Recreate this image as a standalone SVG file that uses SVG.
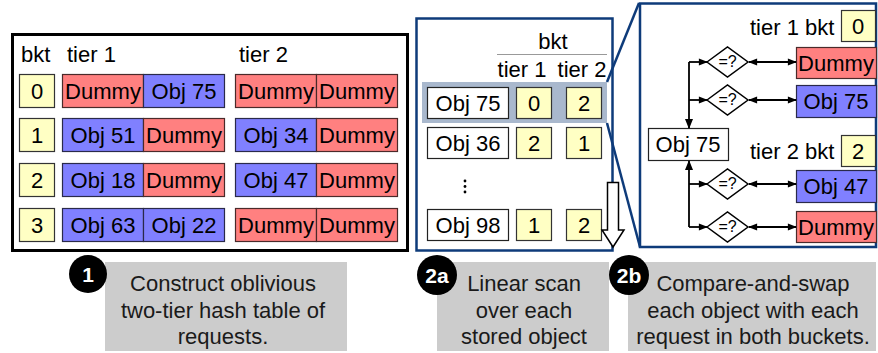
<svg xmlns="http://www.w3.org/2000/svg" width="878" height="353" viewBox="0 0 878 353">
<defs>
<marker id="ah" viewBox="0 0 10 10" refX="9" refY="5" markerWidth="10" markerHeight="9" orient="auto-start-reverse" markerUnits="userSpaceOnUse"><path d="M0,1 L10,5 L0,9 z" fill="#000"/></marker>
<marker id="ahb" viewBox="0 0 10 10" refX="9" refY="5" markerWidth="12" markerHeight="10" orient="auto-start-reverse" markerUnits="userSpaceOnUse"><path d="M0,1 L10,5 L0,9 z" fill="#000"/></marker>
</defs>
<style>
text{font-family:"Liberation Sans",Arial,sans-serif;fill:#000}
.t{font-size:22px}
.c{text-anchor:middle}
.r{fill:#FF8080;stroke:#4a2a2a;stroke-width:1.2}
.b{fill:#8080FF;stroke:#2a2a4a;stroke-width:1.2}
.y{fill:#FFFFC4;stroke:#333;stroke-width:1.2}
.w{fill:#fff;stroke:#222;stroke-width:1.2}
.nv{fill:none;stroke:#0E3B7A;stroke-width:2.5}
.g{fill:#CCCCCC}
.cap{font-size:22px;fill:#1a1a1a;text-anchor:middle}
.bd{font-size:21px;font-weight:bold;fill:#fff;text-anchor:middle}
.ln{stroke:#000;stroke-width:1.8;fill:none}
.dm{fill:#fff;stroke:#000;stroke-width:1.5}
.q{font-size:16px;text-anchor:middle}
</style>

<g id="panel1">
<rect x="12.5" y="34.5" width="395" height="216" fill="#fff" stroke="#000" stroke-width="3"/>
<text class="t" x="21" y="62">bkt</text>
<text class="t" x="67" y="62">tier 1</text>
<text class="t" x="239" y="62">tier 2</text>
</g>

<g id="row0">
<rect class="y" x="19.5" y="74.5" width="35" height="33"/><text class="t c" x="37" y="99">0</text>
<rect class="r" x="62.5" y="74.5" width="81" height="33"/><text class="t c" x="103" y="99">Dummy</text>
<rect class="b" x="143.5" y="74.5" width="81" height="33"/><text class="t c" x="184" y="99">Obj 75</text>
<rect class="r" x="235.5" y="74.5" width="81" height="33"/><text class="t c" x="276" y="99">Dummy</text>
<rect class="r" x="316.5" y="74.5" width="81" height="33"/><text class="t c" x="357" y="99">Dummy</text>
</g>
<g id="row1">
<rect class="y" x="19.5" y="118.5" width="35" height="33"/><text class="t c" x="37" y="143">1</text>
<rect class="b" x="62.5" y="118.5" width="81" height="33"/><text class="t c" x="103" y="143">Obj 51</text>
<rect class="r" x="143.5" y="118.5" width="81" height="33"/><text class="t c" x="184" y="143">Dummy</text>
<rect class="b" x="235.5" y="118.5" width="81" height="33"/><text class="t c" x="276" y="143">Obj 34</text>
<rect class="r" x="316.5" y="118.5" width="81" height="33"/><text class="t c" x="357" y="143">Dummy</text>
</g>
<g id="row2">
<rect class="y" x="19.5" y="163.5" width="35" height="33"/><text class="t c" x="37" y="188">2</text>
<rect class="b" x="62.5" y="163.5" width="81" height="33"/><text class="t c" x="103" y="188">Obj 18</text>
<rect class="r" x="143.5" y="163.5" width="81" height="33"/><text class="t c" x="184" y="188">Dummy</text>
<rect class="b" x="235.5" y="163.5" width="81" height="33"/><text class="t c" x="276" y="188">Obj 47</text>
<rect class="r" x="316.5" y="163.5" width="81" height="33"/><text class="t c" x="357" y="188">Dummy</text>
</g>
<g id="row3">
<rect class="y" x="19.5" y="208.5" width="35" height="33"/><text class="t c" x="37" y="233">3</text>
<rect class="b" x="62.5" y="208.5" width="81" height="33"/><text class="t c" x="103" y="233">Obj 63</text>
<rect class="b" x="143.5" y="208.5" width="81" height="33"/><text class="t c" x="184" y="233">Obj 22</text>
<rect class="r" x="235.5" y="208.5" width="81" height="33"/><text class="t c" x="276" y="233">Dummy</text>
<rect class="r" x="316.5" y="208.5" width="81" height="33"/><text class="t c" x="357" y="233">Dummy</text>
</g>

<g id="panel2a">
<rect class="nv" x="416.5" y="18.5" width="196" height="232" fill="#fff"/>
<text class="t c" x="553" y="49">bkt</text>
<line x1="497" y1="54.5" x2="607" y2="54.5" stroke="#999" stroke-width="1"/>
<text class="t c" x="522" y="77">tier 1</text>
<text class="t c" x="582" y="77">tier 2</text>
<rect x="422" y="82" width="185" height="41" fill="#A9B8CD"/>
<g id="s75">
<rect class="w" x="427.5" y="87.5" width="81" height="31"/><text class="t c" x="468" y="111">Obj 75</text>
<rect class="y" x="516.5" y="87.5" width="35" height="31"/><text class="t c" x="534" y="111">0</text>
<rect class="y" x="566.5" y="87.5" width="35" height="31"/><text class="t c" x="584" y="111">2</text>
</g>
<g id="s36">
<rect class="w" x="427.5" y="127.5" width="81" height="31"/><text class="t c" x="468" y="151">Obj 36</text>
<rect class="y" x="516.5" y="127.5" width="35" height="31"/><text class="t c" x="534" y="151">2</text>
<rect class="y" x="566.5" y="127.5" width="35" height="31"/><text class="t c" x="584" y="151">1</text>
</g>
<g id="dots" fill="#000">
<circle cx="465" cy="181" r="1.4"/><circle cx="465" cy="186.5" r="1.4"/><circle cx="465" cy="192" r="1.4"/>
</g>
<g id="s98">
<rect class="w" x="427.5" y="209.5" width="81" height="31"/><text class="t c" x="468" y="233">Obj 98</text>
<rect class="y" x="516.5" y="209.5" width="35" height="31"/><text class="t c" x="534" y="233">1</text>
<rect class="y" x="566.5" y="209.5" width="35" height="31"/><text class="t c" x="584" y="233">2</text>
</g>
<polygon points="607.5,182.5 618.5,182.5 618.5,230 624,230 613,247 602,230 607.5,230" fill="#fff" stroke="#000" stroke-width="1.5"/>
</g>

<g id="zoomlines">
<line x1="607" y1="82" x2="639" y2="3" stroke="#0E3B7A" stroke-width="2.5"/>
<line x1="607" y1="123" x2="640" y2="247" stroke="#0E3B7A" stroke-width="2.5"/>
</g>

<g id="panel2b">
<rect class="nv" x="640" y="3.5" width="236" height="243.5" fill="#fff"/>
<text class="t" x="750" y="35">tier 1 bkt</text>
<rect class="y" x="841.5" y="10.5" width="34" height="31"/><text class="t c" x="858" y="34">0</text>
<text class="t" x="750" y="159">tier 2 bkt</text>
<rect class="y" x="841.5" y="135.5" width="34" height="31"/><text class="t c" x="858" y="159">2</text>
</g>
<g id="b1"><rect class="r" x="796.5" y="47.5" width="80" height="31"/><text class="t c" x="836" y="71">Dummy</text></g>
<g id="b2"><rect class="b" x="796.5" y="85.5" width="80" height="32"/><text class="t c" x="836" y="109">Obj 75</text></g>
<g id="b3"><rect class="b" x="796.5" y="170.5" width="80" height="32"/><text class="t c" x="836" y="194">Obj 47</text></g>
<g id="b4"><rect class="r" x="796.5" y="211.5" width="80" height="31"/><text class="t c" x="836" y="235">Dummy</text></g>
<g id="obj75"><rect class="w" x="648.5" y="128.5" width="80" height="32"/><text class="t c" x="688" y="152">Obj 75</text></g>
<g id="d1"><polygon class="dm" points="707,62 727.5,47 748,62 727.5,77"/><text class="q" x="727.5" y="67">=?</text></g>
<g id="d2"><polygon class="dm" points="707,100 727.5,85 748,100 727.5,115"/><text class="q" x="727.5" y="105">=?</text></g>
<g id="d3"><polygon class="dm" points="707,184 727.5,169 748,184 727.5,199"/><text class="q" x="727.5" y="189">=?</text></g>
<g id="d4"><polygon class="dm" points="707,227 727.5,212 748,227 727.5,242"/><text class="q" x="727.5" y="232">=?</text></g>

<g id="connectors">
<path class="ln" d="M689,62 L689,128" marker-end="url(#ahb)"/>
<path class="ln" d="M689,62 L707,62" marker-end="url(#ah)"/>
<path class="ln" d="M689,100 L707,100" marker-end="url(#ah)"/>
<path class="ln" d="M689,227 L689,161" marker-end="url(#ahb)"/>
<path class="ln" d="M689,184 L707,184" marker-end="url(#ah)"/>
<path class="ln" d="M689,227 L707,227" marker-end="url(#ah)"/>
<path class="ln" d="M749,62 L796,62" marker-start="url(#ah)" marker-end="url(#ah)"/>
<path class="ln" d="M749,100 L796,100" marker-start="url(#ah)" marker-end="url(#ah)"/>
<path class="ln" d="M749,184 L796,184" marker-start="url(#ah)" marker-end="url(#ah)"/>
<path class="ln" d="M749,227 L796,227" marker-start="url(#ah)" marker-end="url(#ah)"/>
</g>

<g id="cap1">
<rect class="g" x="105" y="262" width="242" height="89"/>
<text class="cap" x="223" y="291">Construct oblivious</text>
<text class="cap" x="223" y="318">two-tier hash table of</text>
<text class="cap" x="223" y="344">requests.</text>
<circle cx="88" cy="274" r="19" fill="#000"/><text class="bd" x="88" y="282">1</text>
</g>
<g id="cap2a">
<rect class="g" x="437" y="262" width="172" height="89"/>
<text class="cap" x="524" y="291">Linear scan</text>
<text class="cap" x="524" y="318">over each</text>
<text class="cap" x="524" y="344">stored object</text>
<circle cx="437" cy="275" r="20" fill="#000"/><text class="bd" x="437" y="283">2a</text>
</g>
<g id="cap2b">
<rect class="g" x="628" y="262" width="248" height="89"/>
<text class="cap" x="753" y="291">Compare-and-swap</text>
<text class="cap" x="753" y="318">each object with each</text>
<text class="cap" x="753" y="344">request in both buckets.</text>
<circle cx="629" cy="275" r="20" fill="#000"/><text class="bd" x="629" y="283">2b</text>
</g>
</svg>
